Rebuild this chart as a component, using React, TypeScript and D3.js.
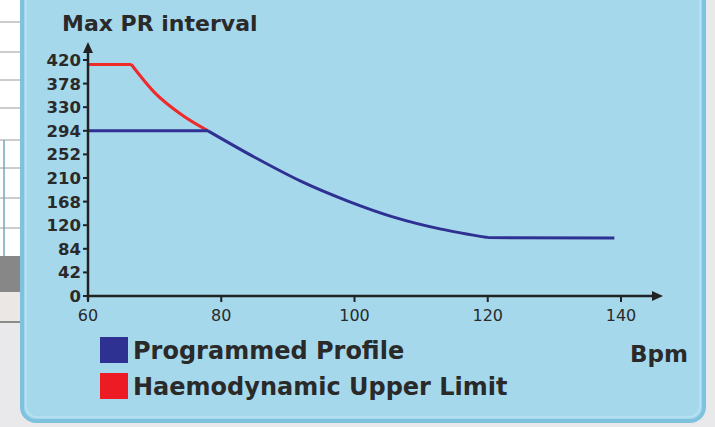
import { useEffect, useRef } from 'react'
import * as d3 from 'd3'

// Programmed profile (blue)
const profileBpm = [60, 78, 85, 92, 99, 106, 113, 120, 139]
const profileMs = [294, 294, 247, 204, 169, 140, 119, 104, 103]

// Haemodynamic upper limit (red)
const limitBpm = [60, 66.5, 70, 74, 78]
const limitMs = [412, 412, 362, 323, 294]

const xTicks = [60, 80, 100, 120, 140]
const yTicks = [0, 42, 84, 126, 168, 210, 252, 294, 336, 378, 420]
const yTickLabels = ['0', '42', '84', '120', '168', '210', '252', '294', '330', '378', '420']

const legendItems = [
  { label: 'Programmed Profile', color: '#2e3192' },
  { label: 'Haemodynamic Upper Limit', color: '#ed1c24' },
]

const FONT = '"DejaVu Sans", Verdana, sans-serif'
const INK = '#2a2a2a'

type Pt = [number, number]

export default function App() {
  const svgRef = useRef<SVGSVGElement>(null)

  useEffect(() => {
    if (!svgRef.current) return
    const width = 715
    const height = 427
    const svg = d3.select(svgRef.current)
    svg.selectAll('*').remove()
    svg.attr('width', width).attr('height', height)

    // page backdrop
    svg.append('rect').attr('width', width).attr('height', height).attr('fill', '#e9e9eb')

    // bits of the surrounding page on the left
    const side = svg.append('g')
    side.append('rect').attr('x', 0).attr('y', 0).attr('width', 22).attr('height', 256).attr('fill', '#ffffff')
    ;[22, 52, 80, 108, 140, 168, 198, 228].forEach(y => {
      side.append('line').attr('x1', 0).attr('x2', 22).attr('y1', y).attr('y2', y).attr('stroke', '#9a9a9a').attr('stroke-width', 1)
    })
    side.append('line').attr('x1', 4).attr('x2', 4).attr('y1', 140).attr('y2', 256).attr('stroke', '#6fa8c0').attr('stroke-width', 1.5)
    side.append('rect').attr('x', 0).attr('y', 256).attr('width', 22).attr('height', 36).attr('fill', '#878787')
    side.append('rect').attr('x', 0).attr('y', 292).attr('width', 22).attr('height', 30).attr('fill', '#ebe7e4')
    side.append('line').attr('x1', 0).attr('x2', 22).attr('y1', 322).attr('y2', 322).attr('stroke', '#6d6d6d').attr('stroke-width', 1.5)

    // panel
    svg.append('rect')
      .attr('x', 22).attr('y', -20).attr('width', 682).attr('height', 441)
      .attr('rx', 14)
      .attr('fill', '#a6d8ec')
      .attr('stroke', '#7fc2de').attr('stroke-width', 4)
    svg.append('rect')
      .attr('x', 26).attr('y', -16).attr('width', 674).attr('height', 433)
      .attr('rx', 11)
      .attr('fill', 'none')
      .attr('stroke', '#b9e2f2').attr('stroke-width', 1.5)

    const x = d3.scaleLinear().domain([60, 140]).range([88, 621])
    const y = d3.scaleLinear().domain([0, 420]).range([296, 60])

    const g = svg.append('g')

    // title
    g.append('text')
      .attr('x', 62).attr('y', 31)
      .attr('font-family', FONT).attr('font-weight', 700).attr('font-size', 22)
      .attr('fill', INK)
      .text('Max PR interval')

    // lines: flat parts straight, the falling part smooth, corners kept sharp
    const straight = d3.line<Pt>().x(d => x(d[0])).y(d => y(d[1]))
    const smooth = d3.line<Pt>().x(d => x(d[0])).y(d => y(d[1])).curve(d3.curveMonotoneX)

    const drawSeries = (bpm: number[], ms: number[], color: string, curveFrom: number, curveTo: number) => {
      const pts = bpm.map((b, i) => [b, ms[i]] as Pt)
      const d = [
        straight(pts.slice(0, curveFrom + 1)),
        smooth(pts.slice(curveFrom, curveTo + 1)),
        curveTo < pts.length - 1 ? straight(pts.slice(curveTo)) : '',
      ].join(' ')
      g.append('path')
        .attr('fill', 'none').attr('stroke', color).attr('stroke-width', 3)
        .attr('stroke-linejoin', 'miter')
        .attr('d', d)
    }

    drawSeries(limitBpm, limitMs, '#ee2a2a', 1, limitBpm.length - 1)
    drawSeries(profileBpm, profileMs, '#2e3192', 1, 7)

    // axes
    const x0 = x(60)
    const y0 = y(0)
    g.append('line').attr('x1', x0).attr('x2', x0).attr('y1', y0 + 4).attr('y2', 50)
      .attr('stroke', '#222').attr('stroke-width', 2.5)
    g.append('path').attr('d', `M${x0},42 L${x0 - 5},53 L${x0 + 5},53 Z`).attr('fill', '#222')
    g.append('line').attr('x1', x0 - 1).attr('x2', 654).attr('y1', y0).attr('y2', y0)
      .attr('stroke', '#222').attr('stroke-width', 2.5)
    g.append('path').attr('d', `M663,${y0} L652,${y0 - 5} L652,${y0 + 5} Z`).attr('fill', '#222')

    yTicks.forEach((t, i) => {
      g.append('line').attr('x1', x0 - 5).attr('x2', x0).attr('y1', y(t)).attr('y2', y(t))
        .attr('stroke', '#222').attr('stroke-width', 2)
      g.append('text')
        .attr('x', x0 - 7).attr('y', y(t) + 6)
        .attr('text-anchor', 'end')
        .attr('font-family', FONT).attr('font-weight', 700).attr('font-size', 16.5)
        .attr('fill', INK)
        .text(yTickLabels[i])
    })

    xTicks.forEach(t => {
      g.append('line').attr('x1', x(t)).attr('x2', x(t)).attr('y1', y0).attr('y2', y0 + 6)
        .attr('stroke', '#222').attr('stroke-width', 2)
      g.append('text')
        .attr('x', x(t)).attr('y', y0 + 25)
        .attr('text-anchor', 'middle')
        .attr('font-family', FONT).attr('font-size', 16)
        .attr('fill', INK)
        .text(String(t))
    })

    // legend
    legendItems.forEach((item, i) => {
      const row = g.append('g').attr('transform', `translate(100, ${337 + i * 36})`)
      row.append('rect').attr('width', 28).attr('height', 26).attr('fill', item.color)
      row.append('text')
        .attr('x', 33).attr('y', 22)
        .attr('font-family', FONT).attr('font-weight', 700).attr('font-size', 24)
        .attr('fill', INK)
        .text(item.label)
    })

    g.append('text')
      .attr('x', 630).attr('y', 362)
      .attr('font-family', FONT).attr('font-weight', 700).attr('font-size', 23)
      .attr('fill', INK)
      .text('Bpm')
  }, [])

  return (
    <div style={{ position: 'absolute', left: 0, top: 0 }}>
      <svg ref={svgRef} style={{ display: 'block' }} />
    </div>
  )
}
